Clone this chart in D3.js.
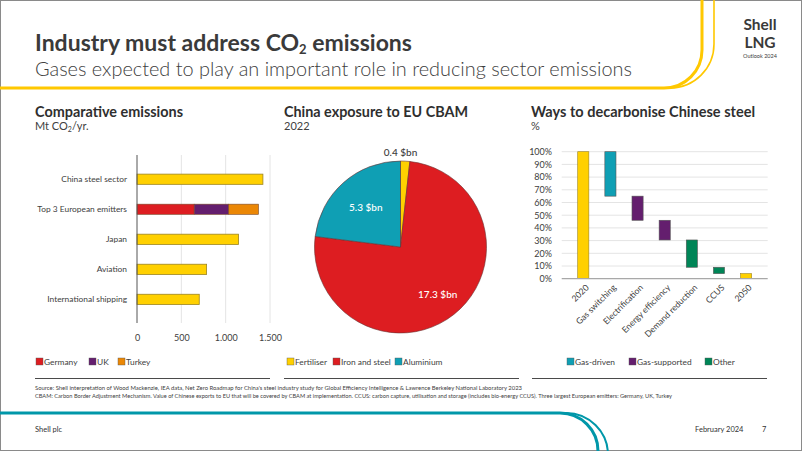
<!DOCTYPE html>
<html><head><meta charset="utf-8">
<script src="https://cdn.jsdelivr.net/npm/d3@7"></script>
<style>
html,body{margin:0;padding:0;background:#fff;}
svg{display:block;font-family:Lato,"Open Sans",sans-serif;}
</style></head>
<body>
<script>
// ---------- DATA ----------
const emissionCategories = ["China steel sector","Top 3 European emitters","Japan","Aviation","International shipping"];
const emissionSingle = [1420, null, 1145, 785, 702];
const europeCountries = ["Germany","UK","Turkey"];
const europeValues = [645, 390, 335];
const emissionTicks = [0, 500, 1000, 1500];
const emissionTickLabels = ["0", "500", "1.000", "1.500"];

const pieCategories = ["Fertiliser","Iron and steel","Aluminium"];
const pieValues = [0.4, 17.3, 5.3];
const pieLabels = ["0.4 $bn","17.3 $bn","5.3 $bn"];

const wfCategories = ["2020","Gas switching","Electrification","Energy efficiency","Demand reduction","CCUS","2050"];
const wfFrom = [0, 100, 65, 46, 30.5, 9, 4];
const wfTo   = [100, 65, 46, 30.5, 9, 4, 0];
const wfGroup = ["total","Gas-driven","Gas-supported","Gas-supported","Other","Other","total"];
const wfTicks = [0,10,20,30,40,50,60,70,80,90,100];
const wfLegend = ["Gas-driven","Gas-supported","Other"];

// ---------- STYLE ----------
const C = {text:"#404040", yellow:"#FFD000", yellowStroke:"#9c8420", red:"#DD1D21", purple:"#641E6E", orange:"#EB8705", teal:"#0F9FB4", green:"#008557", grid:"#e4e4e4", axis:"#a8a8a8"};
const euColors = [C.red, C.purple, C.orange];
const pieColors = [C.yellow, C.red, C.teal];
const groupColors = {"total":C.yellow, "Gas-driven":C.teal, "Gas-supported":C.purple, "Other":C.green};

const W = 802, H = 451;
const svg = d3.select("body").append("svg").attr("width", W).attr("height", H);
svg.append("rect").attr("x",0.5).attr("y",0.5).attr("width",W-1).attr("height",H-1).attr("fill","#fff").attr("stroke","#8a8a8a");

// decorative curves
svg.append("path").attr("d","M0,88 H664 A38,38 0 0 0 702,50 V0").attr("fill","none").attr("stroke","#FFC800").attr("stroke-width",3);
svg.append("path").attr("d","M640,88 H670 A44,44 0 0 0 714,44 V0").attr("fill","none").attr("stroke","#FFC800").attr("stroke-width",1.6);
svg.append("path").attr("d","M0,413 H560 A38,38 0 0 1 598,451").attr("fill","none").attr("stroke","#0097A9").attr("stroke-width",3);
svg.append("path").attr("d","M540,413 H566 A42,42 0 0 1 608,455").attr("fill","none").attr("stroke","#0097A9").attr("stroke-width",2);

// titles
const t = svg.append("text").attr("x",35).attr("y",51).attr("fill","#3a3a3a").attr("font-size",23).attr("font-weight",700);
t.append("tspan").text("Industry must address CO");
t.append("tspan").text("2").attr("font-size",13).attr("dy",3);
t.append("tspan").text(" emissions").attr("dy",-3);
svg.append("text").attr("x",35).attr("y",76).attr("fill","#404040").attr("font-size",19.5).attr("font-weight",300)
  .attr("textLength",597).attr("lengthAdjust","spacingAndGlyphs").text("Gases expected to play an important role in reducing sector emissions");

// logo
svg.append("text").attr("x",760).attr("y",29.5).attr("text-anchor","middle").attr("font-size",15.5).attr("font-weight",700).attr("fill","#3a3a3a").text("Shell");
svg.append("text").attr("x",760).attr("y",48).attr("text-anchor","middle").attr("font-size",15.5).attr("font-weight",700).attr("fill","#3a3a3a").text("LNG");
svg.append("text").attr("x",760).attr("y",57.5).attr("text-anchor","middle").attr("font-size",5.5).attr("fill","#3a3a3a").text("Outlook 2024");

function panelTitle(x, title, sub, tl){
  svg.append("text").attr("x",x).attr("y",117).attr("font-size",15).attr("font-weight",700).attr("fill","#2f2f2f")
    .attr("textLength",tl).attr("lengthAdjust","spacingAndGlyphs").text(title);
  if(sub!==null) svg.append("text").attr("x",x).attr("y",130).attr("font-size",11).attr("fill",C.text).text(sub);
}
const s1 = svg.append("text").attr("x",35).attr("y",130).attr("font-size",11).attr("fill",C.text);
s1.append("tspan").text("Mt CO");
s1.append("tspan").text("2").attr("font-size",7).attr("dy",2);
s1.append("tspan").text("/yr.").attr("dy",-2);
panelTitle(35, "Comparative emissions", null, 148);
panelTitle(284, "China exposure to EU CBAM", "2022", 184);
panelTitle(531, "Ways to decarbonise Chinese steel", "%", 224);

// ---------- Chart 1: horizontal bars ----------
const x1 = d3.scaleLinear().domain([0,1500]).range([137,270]);
const y1 = d3.scaleBand().domain(emissionCategories).range([154.3,324.3]).padding(0.66);
const g1 = svg.append("g");
g1.selectAll(".grid").data(emissionTicks.slice(1)).enter().append("line")
  .attr("x1",d=>x1(d)).attr("x2",d=>x1(d)).attr("y1",155).attr("y2",323).attr("stroke",C.grid).attr("stroke-width",1);
const ax1 = d3.axisBottom(x1).tickValues(emissionTicks).tickFormat((d,i)=>emissionTickLabels[i]).tickSize(0).tickPadding(0);
const ax1g = g1.append("g").attr("transform","translate(0,338)").call(ax1);
ax1g.select(".domain").remove();
ax1g.selectAll("text").attr("font-size",9).attr("fill",C.text).attr("font-family","Lato,sans-serif").attr("dy","0.32em");
emissionCategories.forEach((c,i)=>{
  if(emissionSingle[i]!==null){
    g1.append("rect").attr("x",x1(0)).attr("y",y1(c)).attr("width",x1(emissionSingle[i])-x1(0)).attr("height",y1.bandwidth())
      .attr("fill",C.yellow).attr("stroke",C.yellowStroke).attr("stroke-width",0.8);
  } else {
    let acc = 0;
    europeValues.forEach((v,j)=>{
      g1.append("rect").attr("x",x1(acc)).attr("y",y1(c)).attr("width",x1(acc+v)-x1(acc)).attr("height",y1.bandwidth())
        .attr("fill",euColors[j]).attr("stroke","#7a4a2a").attr("stroke-width",0.6);
      acc += v;
    });
  }
  g1.append("text").attr("x",127).attr("y",y1(c)+y1.bandwidth()/2).attr("dy","0.35em").attr("text-anchor","end")
    .attr("font-size",8.4).attr("fill",C.text).text(c);
});
g1.append("line").attr("x1",x1(0)).attr("x2",x1(0)).attr("y1",155).attr("y2",323).attr("stroke","#555").attr("stroke-width",1);

// ---------- Chart 2: pie ----------
const pie = d3.pie().sort(null).value(d=>d)(pieValues);
const arc = d3.arc().innerRadius(0).outerRadius(86);
const g2 = svg.append("g").attr("transform","translate(400.5,247)");
g2.selectAll("path").data(pie).enter().append("path").attr("d",arc)
  .attr("fill",(d,i)=>pieColors[i]).attr("stroke","#6a3030").attr("stroke-width",0.6);
pie.forEach((d,i)=>{
  const c = i===0 ? [0,-95] : d3.arc().innerRadius(0).outerRadius(i===1?120:105).centroid(d);
  g2.append("text").attr("x",c[0]).attr("y",c[1]).attr("dy","0.35em").attr("text-anchor","middle")
    .attr("font-size",10).attr("font-weight",500).attr("fill",i===0?C.text:"#fff").text(pieLabels[i]);
});

// ---------- Chart 3: waterfall ----------
const x3 = d3.scaleBand().domain(wfCategories).range([561.7,767.7]).padding(0.59);
const y3 = d3.scaleLinear().domain([0,100]).range([278.7,151.7]);
const g3 = svg.append("g");
g3.selectAll(".grid").data(wfTicks.slice(1)).enter().append("line")
  .attr("x1",561.7).attr("x2",767.7).attr("y1",d=>y3(d)).attr("y2",d=>y3(d)).attr("stroke",C.grid);
const ay3 = d3.axisLeft(y3).tickValues(wfTicks).tickFormat(d=>d+"%").tickSize(0).tickPadding(0);
const ay3g = g3.append("g").attr("transform","translate(552,0)").call(ay3);
ay3g.select(".domain").remove();
ay3g.selectAll("text").attr("font-size",9).attr("fill",C.text).attr("font-family","Lato,sans-serif");
wfCategories.forEach((c,i)=>{
  const top = Math.max(wfFrom[i],wfTo[i]), bot = Math.min(wfFrom[i],wfTo[i]);
  g3.append("rect").attr("x",x3(c)).attr("y",y3(top)).attr("width",x3.bandwidth()).attr("height",y3(bot)-y3(top))
    .attr("fill",groupColors[wfGroup[i]]).attr("stroke",wfGroup[i]==="total"?C.yellowStroke:"#555").attr("stroke-width",0.6);
});
g3.append("line").attr("x1",561.7).attr("x2",767.7).attr("y1",y3(0)).attr("y2",y3(0)).attr("stroke",C.axis).attr("stroke-width",1.2);
const ax3 = d3.axisBottom(x3).tickSize(0).tickPadding(0);
const ax3g = g3.append("g").attr("transform","translate(0,286)").call(ax3);
ax3g.select(".domain").remove();
ax3g.selectAll("text").attr("font-size",8.6).attr("fill",C.text).attr("font-family","Lato,sans-serif")
  .attr("text-anchor","end").attr("dy","0.35em").attr("transform","translate(4,0) rotate(-45)");

// ---------- legends ----------
function legend(items, colors, xs, textXs){
  items.forEach((it,i)=>{
    svg.append("rect").attr("x",xs[i]).attr("y",358).attr("width",7).attr("height",7).attr("fill",colors[i]).attr("stroke","#555").attr("stroke-width",0.4);
    svg.append("text").attr("x",textXs[i]).attr("y",365).attr("font-size",8.4).attr("fill",C.text).text(it);
  });
}
legend(europeCountries, euColors, [36,89,118], [44,97,126]);
legend(pieCategories, pieColors, [287,333,395], [295,341,403]);
legend(wfLegend, wfLegend.map(d=>groupColors[d]), [567,629,705], [575,637,713]);

[[35,270],[284,519],[532,767]].forEach(s=>{
  svg.append("line").attr("x1",s[0]).attr("x2",s[1]).attr("y1",378.5).attr("y2",378.5).attr("stroke","#4a4a4a").attr("stroke-width",1);
});

svg.append("text").attr("x",35).attr("y",390).attr("font-size",5.6).attr("fill",C.text).attr("textLength",487).attr("lengthAdjust","spacingAndGlyphs")
  .text("Source: Shell interpretation of Wood Mackenzie, IEA data, Net Zero Roadmap for China's steel industry study for Global Efficiency Intelligence & Lawrence Berkeley National Laboratory 2023");
svg.append("text").attr("x",35).attr("y",398).attr("font-size",5.6).attr("fill",C.text).attr("textLength",637).attr("lengthAdjust","spacingAndGlyphs")
  .text("CBAM: Carbon Border Adjustment Mechanism. Value of Chinese exports to EU that will be covered by CBAM at implementation. CCUS: carbon capture, utilisation and storage (includes bio-energy CCUS). Three largest European emitters: Germany, UK, Turkey");

svg.append("text").attr("x",35).attr("y",432).attr("font-size",7.5).attr("fill","#333").text("Shell plc");
svg.append("text").attr("x",695).attr("y",432).attr("font-size",7.5).attr("fill","#333").text("February 2024");
svg.append("text").attr("x",762).attr("y",432).attr("font-size",7.5).attr("fill","#333").text("7");
</script>
</body></html>
